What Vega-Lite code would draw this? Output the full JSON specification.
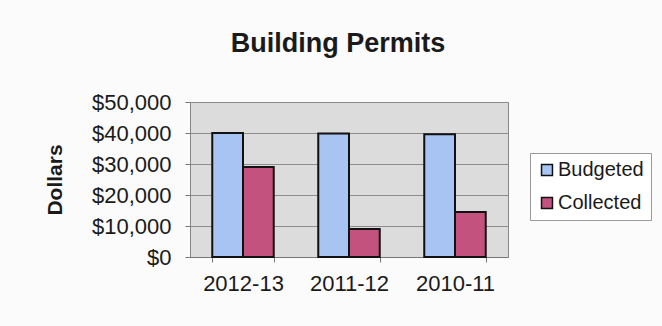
{
  "$schema": "https://vega.github.io/schema/vega-lite/v6.json",
  "autosize": "none",
  "width": 318,
  "height": 155,
  "padding": {"left": 190, "top": 102, "right": 154, "bottom": 69},
  "background": "#fbfbfb",
  "title": {
    "text": "Building Permits",
    "font": "Liberation Sans",
    "fontSize": 27,
    "fontWeight": "bold",
    "color": "#1a1a1a",
    "anchor": "middle",
    "dx": -11,
    "offset": 33
  },
  "data": {
    "values": [
      {"year": "2012-13", "series": "Budgeted", "value": 40000},
      {"year": "2012-13", "series": "Collected", "value": 29000},
      {"year": "2011-12", "series": "Budgeted", "value": 39800},
      {"year": "2011-12", "series": "Collected", "value": 9000},
      {"year": "2010-11", "series": "Budgeted", "value": 39600},
      {"year": "2010-11", "series": "Collected", "value": 14500}
    ]
  },
  "mark": {"type": "bar", "stroke": "#111", "strokeWidth": 2},
  "encoding": {
    "x": {
      "field": "year",
      "type": "nominal",
      "sort": ["2012-13", "2011-12", "2010-11"],
      "scale": {"paddingInner": 0.42, "paddingOuter": 0.21},
      "axis": {
        "title": null,
        "labelAngle": 0,
        "labelFont": "Liberation Sans",
        "labelFontSize": 22,
        "labelColor": "#1a1a1a",
        "labelPadding": 11,
        "tickBand": "extent",
        "tickSize": 5,
        "tickColor": "#777",
        "domainColor": "#777",
        "grid": false
      }
    },
    "xOffset": {"field": "series", "type": "nominal", "scale": {"paddingInner": 0}},
    "y": {
      "field": "value",
      "type": "quantitative",
      "scale": {"domain": [0, 50000]},
      "axis": {
        "title": "Dollars",
        "titleFont": "Liberation Sans",
        "titleFontSize": 21,
        "titleFontWeight": "bold",
        "titleColor": "#1a1a1a",
        "titlePadding": 26,
        "values": [0, 10000, 20000, 30000, 40000, 50000],
        "format": "$,.0f",
        "labelFont": "Liberation Sans",
        "labelFontSize": 22,
        "labelColor": "#1a1a1a",
        "labelPadding": 14,
        "tickSize": 5,
        "tickColor": "#777",
        "domain": false,
        "grid": true,
        "gridColor": "#8c8c8c",
        "gridWidth": 1
      }
    },
    "color": {
      "field": "series",
      "type": "nominal",
      "scale": {"domain": ["Budgeted", "Collected"], "range": ["#a8c4f2", "#c4527e"]},
      "legend": {
        "title": null,
        "orient": "none",
        "legendX": 340,
        "legendY": 51,
        "fillColor": "#ffffff",
        "strokeColor": "#999",
        "padding": 7,
        "rowPadding": 13,
        "symbolType": "square",
        "symbolSize": 120,
        "symbolStrokeColor": "#111",
        "symbolStrokeWidth": 1.5,
        "symbolOpacity": 1,
        "labelFont": "Liberation Sans",
        "labelFontSize": 20,
        "labelColor": "#1a1a1a",
        "labelOffset": 1
      }
    }
  },
  "config": {
    "view": {"fill": "#dcdcdc", "stroke": "#888", "strokeWidth": 1}
  }
}
